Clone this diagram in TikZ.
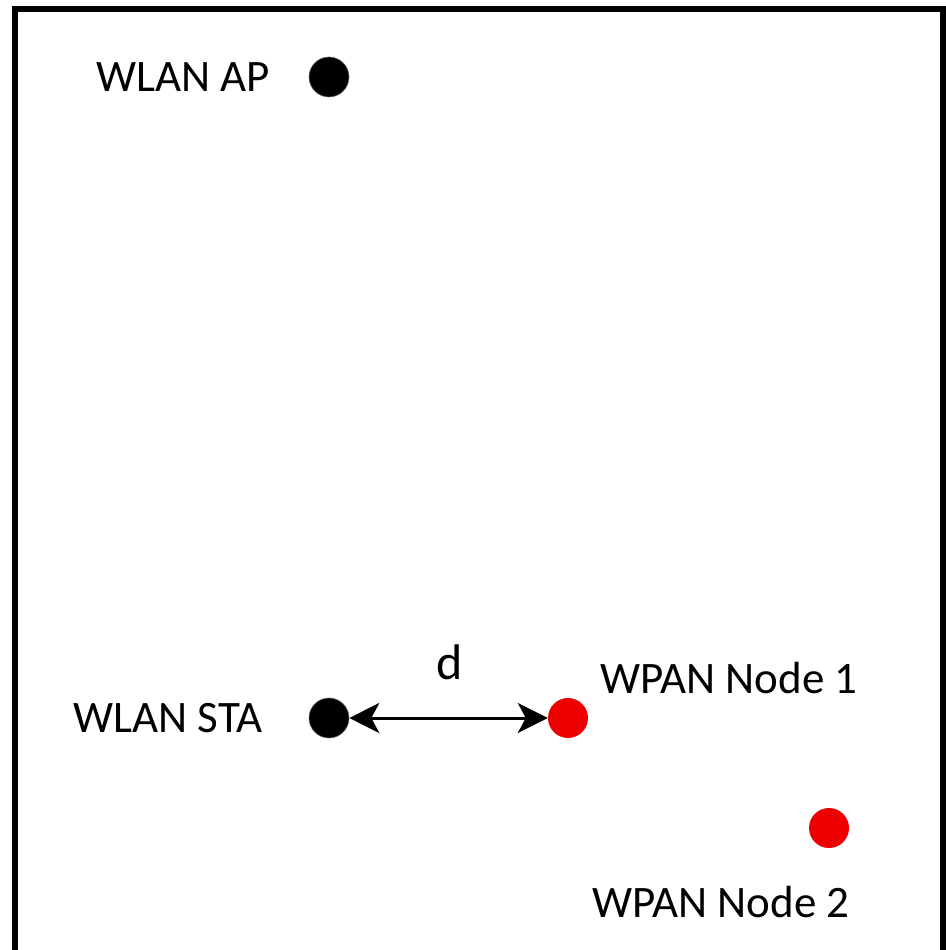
\documentclass[tikz,border=0pt]{standalone}
\usepackage{fontspec}
\setmainfont{Carlito}
\usetikzlibrary{arrows.meta}
\definecolor{dotred}{RGB}{238,0,0}
\tikzset{
  lbl/.style={inner sep=0pt, font=\fontsize{45}{50}\selectfont},
  blackdot/.style={circle, fill=black, draw=black!60, line width=0.6pt, minimum size=40pt, inner sep=0pt},
  reddot/.style={circle, fill=dotred, draw=none, minimum size=40pt, inner sep=0pt},
}
\begin{document}
\begin{tikzpicture}[x=1pt,y=-1pt]
\useasboundingbox (0,0) rectangle (945,950);
\draw[line width=6pt, line join=miter] (15,950) -- (15,9) -- (943,9) -- (943,950);
\node[blackdot] (ap) at (329,77) {};
\node[blackdot] (sta) at (329,718) {};
\node[reddot] (n1) at (568,718) {};
\node[reddot] (n2) at (829,828) {};
\node[lbl] (lap) at (183,77) {WLAN AP};
\node[lbl] (lsta) at (168,718) {WLAN STA};
\node[lbl] (ln1) at (729,678) {WPAN Node 1};
\node[lbl] (ln2) at (721,902) {WPAN Node 2};
\node[inner sep=0pt, font=\fontsize{50}{56}\selectfont] (ld) at (450,662) {d};
\draw[line width=3pt, {Stealth[length=30pt,width=30pt,inset=8pt]}-{Stealth[length=30pt,width=30pt,inset=8pt]}] (sta) -- (n1);
\end{tikzpicture}
\end{document}
